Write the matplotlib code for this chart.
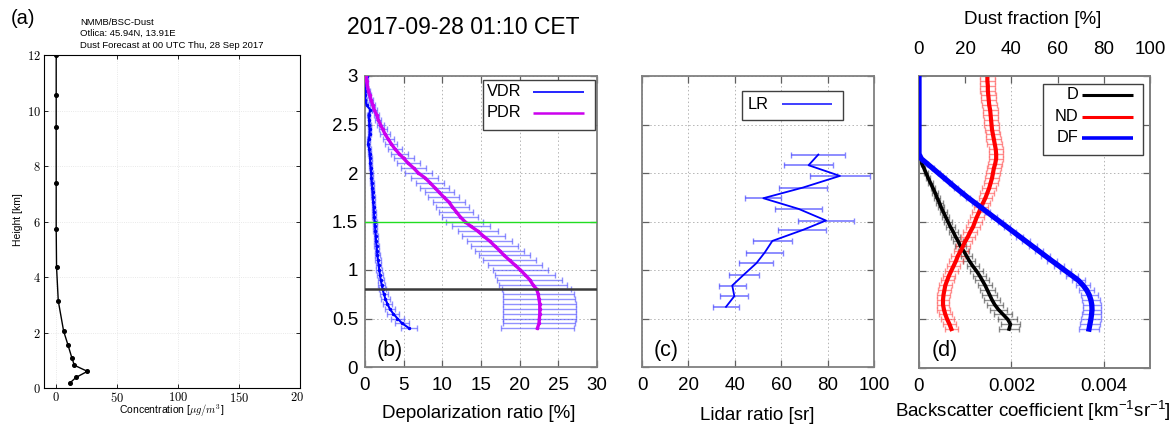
import numpy as np
import matplotlib
matplotlib.use("Agg")
import matplotlib.pyplot as plt
from matplotlib.patches import Rectangle
from matplotlib.ticker import FuncFormatter
from matplotlib.transforms import Bbox, TransformedBbox

plt.rcParams['font.family'] = ['Liberation Sans', 'DejaVu Sans']
plt.rcParams['mathtext.fontset'] = 'cm'

# ---- (a) NMMB/BSC-Dust forecast profile
conc_height = [12.0, 10.56, 9.39, 7.40, 5.74, 4.35, 3.14, 2.05, 1.56, 1.08, 0.82, 0.60, 0.38, 0.17]
conc = [0.0, 0.0, 0.0, 0.0, 0.0, 0.3, 1.7, 6.1, 9.6, 12.9, 14.9, 25.6, 16.2, 11.0]

# ---- common lidar height grid (km) for (b) and (d)
height = [0.40, 0.45, 0.50, 0.55, 0.60, 0.65, 0.70, 0.75, 0.80, 0.85,
          0.90, 0.95, 1.00, 1.05, 1.10, 1.15, 1.20, 1.25, 1.30, 1.35,
          1.40, 1.45, 1.50, 1.55, 1.60, 1.65, 1.70, 1.75, 1.80, 1.85,
          1.90, 1.95, 2.00, 2.05, 2.10, 2.15, 2.20, 2.25, 2.30, 2.35,
          2.40, 2.45, 2.50, 2.55, 2.60, 2.65, 2.70, 2.75, 2.80, 2.85,
          2.90, 2.95, 3.00]

# ---- (b) depolarization ratios [%]
vdr = [5.7, 4.8, 4.2, 3.65, 3.2, 2.9, 2.65, 2.45, 2.28, 2.15,
       2.03, 1.93, 1.85, 1.76, 1.68, 1.61, 1.55, 1.49, 1.43, 1.39,
       1.35, 1.30, 1.25, 1.20, 1.15, 1.12, 1.07, 1.03, 0.99, 0.95,
       0.90, 0.84, 0.80, 0.75, 0.70, 0.66, 0.62, 0.55, 0.40, 0.50,
       0.60, 0.62, 0.58, 0.52, 0.48, 0.70, 0.20, 0.05, 0.0, 0.02,
       0.05, 0.15, 0.20]
vdr_err = [1.0, 0.95, 0.85, 0.75, 0.65, 0.6, 0.55, 0.5, 0.45, 0.42,
           0.4, 0.4, 0.38, 0.36, 0.34, 0.32, 0.3, 0.3, 0.28, 0.27,
           0.26, 0.25, 0.25, 0.24, 0.23, 0.22, 0.22, 0.21, 0.2, 0.2,
           0.2, 0.2, 0.2, 0.2, 0.2, 0.2, 0.2, 0.2, 0.2, 0.2,
           0.18, 0.18, 0.18, 0.16, 0.16, 0.16, 0.15, 0.15, 0.15, 0.15,
           0.15, 0.15, 0.15]
pdr = [22.3, 22.5, 22.55, 22.6, 22.6, 22.6, 22.5, 22.4, 22.2, 21.7,
       21.3, 20.7, 20.1, 19.4, 18.7, 18.0, 17.4, 16.75, 16.1, 15.3,
       14.6, 13.7, 12.9, 12.3, 11.8, 11.3, 10.85, 10.2, 9.6, 9.0,
       8.4, 7.75, 6.9, 6.3, 5.6, 5.0, 4.4, 3.85, 3.4, 3.0,
       2.6, 2.3, 2.0, 1.7, 1.5, 1.2, 1.0, 0.8, 0.6, 0.45,
       0.3, 0.2, 0.15]
pdr_err = [4.7, 4.7, 4.7, 4.7, 4.7, 4.7, 4.65, 4.6, 4.5, 4.4,
           4.2, 3.9, 3.6, 3.5, 3.4, 3.3, 3.15, 3.0, 2.9, 2.75,
           2.6, 2.5, 2.4, 2.3, 2.2, 2.1, 2.05, 2.0, 1.9, 1.85,
           1.8, 1.75, 1.7, 1.6, 1.5, 1.3, 1.1, 0.9, 0.8, 0.7,
           0.6, 0.5, 0.45, 0.4, 0.35, 0.3, 0.3, 0.25, 0.2, 0.2,
           0.15, 0.15, 0.1]

# ---- (c) lidar ratio [sr]
lr_height = [2.19, 2.08, 1.97, 1.85, 1.74, 1.63, 1.51, 1.41, 1.30, 1.18, 1.07, 0.95, 0.84, 0.73, 0.62]
lr = [76.0, 71.8, 85.3, 69.4, 52.3, 67.5, 79.3, 69.0, 56.2, 52.9, 49.3, 43.8, 38.9, 39.8, 36.2]
lr_err = [11.7, 10.5, 13.0, 10.4, 7.8, 10.3, 12.0, 10.5, 8.4, 8.0, 7.3, 6.5, 5.8, 6.0, 5.4]

# ---- (d) backscatter [1e-3 km-1 sr-1] and dust fraction [%]
d_bsc = [1.95, 1.98, 1.92, 1.82, 1.72, 1.64, 1.58, 1.53, 1.48, 1.43,
         1.37, 1.31, 1.24, 1.16, 1.09, 1.03, 0.97, 0.90, 0.85, 0.79,
         0.74, 0.68, 0.63, 0.58, 0.53, 0.48, 0.44, 0.39, 0.35, 0.30,
         0.25, 0.20, 0.155, 0.11, 0.06, 0.02, 0, 0, 0, 0,
         0, 0, 0, 0, 0, 0, 0, 0, 0, 0,
         0, 0, 0]
d_err = [0.21, 0.21, 0.2, 0.19, 0.18, 0.17, 0.17, 0.16, 0.16, 0.15,
         0.15, 0.14, 0.14, 0.13, 0.13, 0.12, 0.12, 0.11, 0.11, 0.1,
         0.1, 0.09, 0.09, 0.08, 0.08, 0.07, 0.07, 0.06, 0.06, 0.05,
         0.05, 0.04, 0.04, 0.03, 0.02, 0.01, 0, 0, 0, 0,
         0, 0, 0, 0, 0, 0, 0, 0, 0, 0,
         0, 0, 0]
nd_bsc = [0.70, 0.66, 0.61, 0.57, 0.54, 0.52, 0.52, 0.53, 0.55, 0.57,
          0.61, 0.65, 0.70, 0.75, 0.80, 0.84, 0.90, 0.95, 1.00, 1.06,
          1.11, 1.17, 1.21, 1.25, 1.30, 1.34, 1.39, 1.44, 1.48, 1.52,
          1.55, 1.58, 1.60, 1.62, 1.65, 1.67, 1.67, 1.66, 1.64, 1.62,
          1.60, 1.58, 1.57, 1.56, 1.55, 1.54, 1.52, 1.51, 1.50, 1.49,
          1.49, 1.48, 1.48]
nd_err = [0.14, 0.14, 0.14, 0.14, 0.14, 0.14, 0.14, 0.14, 0.14, 0.14,
          0.14, 0.14, 0.14, 0.14, 0.15, 0.15, 0.15, 0.15, 0.15, 0.15,
          0.15, 0.15, 0.15, 0.15, 0.15, 0.15, 0.15, 0.15, 0.15, 0.15,
          0.15, 0.15, 0.15, 0.15, 0.15, 0.15, 0.15, 0.15, 0.16, 0.16,
          0.16, 0.16, 0.16, 0.16, 0.16, 0.16, 0.16, 0.16, 0.16, 0.16,
          0.16, 0.16, 0.16]
dust_frac = [73.6, 74.0, 74.4, 74.7, 74.9, 74.8, 74.4, 73.7, 72.6, 71.0,
             69.0, 66.2, 63.3, 60.5, 57.6, 54.8, 52.0, 49.2, 46.4, 43.6,
             40.8, 38.0, 35.2, 32.4, 29.6, 26.8, 24.0, 21.2, 18.6, 16.0,
             13.5, 11.0, 8.5, 6.0, 3.5, 1.0, 0, 0, 0, 0,
             0, 0, 0, 0, 0, 0, 0, 0, 0, 0,
             0, 0, 0]
dust_frac_err = [4.3, 4.3, 4.3, 4.2, 4.1, 4.0, 3.8, 3.6, 3.3, 3.0,
                 2.7, 2.5, 2.3, 2.1, 2.0, 1.9, 1.8, 1.7, 1.6, 1.5,
                 1.4, 1.3, 1.2, 1.2, 1.1, 1.0, 1.0, 0.9, 0.8, 0.7,
                 0.6, 0.5, 0.4, 0.3, 0.2, 0.1, 0, 0, 0, 0,
                 0, 0, 0, 0, 0, 0, 0, 0, 0, 0,
                 0, 0, 0]

W, H = 1176, 426
fig = plt.figure(figsize=(W / 100, H / 100), dpi=100)


def px_axes(l, t, r, b):
    return fig.add_axes([l / W, 1 - b / H, (r - l) / W, (b - t) / H])


def px_text(x, y, s, **kw):
    return fig.text(x / W, 1 - y / H, s, **kw)


#gnuplot-like look
def gp_style(ax):
    for s in ax.spines.values():
        s.set_color('#808080')
        s.set_linewidth(1.3)
    ax.tick_params(direction='in', top=True, right=True, length=5, width=0.9,
                   color='#606060', labelsize=13.5, pad=7.5)
    ax.tick_params(axis='y', pad=5)
    ax.grid(True, color='#b4b4b4', ls=(0, (1.5, 2.5)), lw=0.7)
    ax.set_axisbelow(True)


def gp_key(ax, box, x_txt, x_line, entries):
    x0, y0, x1, y1 = box
    ax.add_patch(Rectangle((x0, y0), x1 - x0, y1 - y0, transform=ax.transAxes,
                           facecolor='white', edgecolor='#404040', lw=1.0, zorder=8))
    for lab, y, col, lw in entries:
        ax.text(x_txt, y, lab, transform=ax.transAxes, ha='right', va='center',
                fontsize=11.8, zorder=9)
        ax.plot(x_line, [y, y], transform=ax.transAxes, color=col, lw=lw,
                zorder=9, solid_capstyle='butt')


# ---------------- panel (a)
ax_a = px_axes(44, 55, 300, 388)
ax_a.plot(conc, conc_height, color='black', lw=1.0, marker='o', ms=2.6)
ax_a.set_xlim(-10, 200)
ax_a.set_ylim(0, 12)
ax_a.set_xticks([0, 50, 100, 150, 200])
ax_a.set_yticks([0, 2, 4, 6, 8, 10, 12])
ax_a.xaxis.set_major_formatter(FuncFormatter(lambda v, p: r'$%d$' % v))
ax_a.yaxis.set_major_formatter(FuncFormatter(lambda v, p: r'$%d$' % v))
ax_a.tick_params(direction='in', top=True, right=True, length=3, width=0.6,
                 labelsize=9, pad=2.5)
ax_a.grid(True, color='#e2e2e2', ls=':', lw=0.6)
for s in ax_a.spines.values():
    s.set_linewidth(0.8)
# the last x label is cut at the panel edge in the original
lab_last = ax_a.xaxis.get_major_ticks()[-1].label1
lab_last.set_clip_box(TransformedBbox(Bbox.from_extents(0, 0, 303 / W, 1), fig.transFigure))
lab_last.set_clip_on(True)

px_text(22.5, 18.5, '(a)', fontsize=14.5, ha='center', va='center')
px_text(80, 22.5, 'NMMB/BSC-Dust', fontsize=6.8, va='center')
px_text(80, 33.5, 'Otlica: 45.94N, 13.91E', fontsize=6.8, va='center')
px_text(80, 45.5, 'Dust Forecast at 00 UTC Thu, 28 Sep 2017', fontsize=6.8, va='center')
px_text(18, 220, 'Height [km]', fontsize=7.5, rotation=90, ha='center', va='center')
px_text(172, 411, r'Concentration [$\mu g/m^3$]', fontsize=7.5, ha='center', va='center')

# ---------------- panel (b)
ax_b = px_axes(365, 76, 597, 367)
gp_style(ax_b)
ax_b.errorbar(vdr, height, xerr=vdr_err, fmt='none', ecolor='#4848ff', alpha=0.6,
              elinewidth=1.0, capsize=2.2, capthick=1.0, zorder=2)
ax_b.errorbar(pdr, height, xerr=pdr_err, fmt='none', ecolor='#4848ff', alpha=0.6,
              elinewidth=1.0, capsize=2.2, capthick=1.0, zorder=2)
ax_b.plot(vdr, height, color='#0000ff', lw=1.5, marker='.', ms=3, zorder=3)
ax_b.plot(pdr, height, color='#cc00ee', lw=2.4, marker='.', ms=3, zorder=3)
ax_b.axhline(1.5, color='#22dd22', lw=1.0, zorder=4)
ax_b.axhline(0.8, color='#3a3a3a', lw=1.8, zorder=4)
ax_b.set_xlim(0, 30)
ax_b.set_ylim(0, 3)
ax_b.set_xticks([0, 5, 10, 15, 20, 25, 30])
ax_b.set_yticks([0, 0.5, 1, 1.5, 2, 2.5, 3])
ax_b.yaxis.set_major_formatter(FuncFormatter(lambda v, p: '%g' % v))
ax_b.text(0.108, 0.058, '(b)', transform=ax_b.transAxes, fontsize=15.5,
          ha='center', va='center')
gp_key(ax_b, (0.51, 0.814, 0.991, 0.986), 0.675, [0.726, 0.944],
       [('VDR', 0.946, '#0000ff', 1.2), ('PDR', 0.874, '#cc00ee', 1.8)])
px_text(479, 414, 'Depolarization ratio [%]', fontsize=13.5, ha='center', va='center')
px_text(463, 28, '2017-09-28 01:10 CET', fontsize=16.5, ha='center', va='center')

# ---------------- panel (c)
ax_c = px_axes(642, 76, 874, 367)
gp_style(ax_c)
ax_c.errorbar(lr, lr_height, xerr=lr_err, fmt='none', ecolor='#5a5aff', alpha=0.75,
              elinewidth=1.3, capsize=2.5, capthick=1.0, zorder=2)
ax_c.plot(lr, lr_height, color='#0000ff', lw=1.3, zorder=3)
ax_c.set_xlim(0, 100)
ax_c.set_ylim(0, 3)
ax_c.set_xticks([0, 20, 40, 60, 80, 100])
ax_c.set_yticks([0, 0.5, 1, 1.5, 2, 2.5, 3])
ax_c.tick_params(axis='y', labelleft=False)
ax_c.text(0.105, 0.058, '(c)', transform=ax_c.transAxes, fontsize=15.5,
          ha='center', va='center')
gp_key(ax_c, (0.432, 0.849, 0.865, 0.949), 0.547, [0.602, 0.818],
       [('LR', 0.903, '#3030ff', 1.3)])
px_text(757, 415, 'Lidar ratio [sr]', fontsize=13.5, ha='center', va='center')

# ---------------- panel (d)
ax_d = px_axes(919, 76, 1150, 368)
gp_style(ax_d)
d_scaled = np.array(d_bsc) * 1e-3
d_err_scaled = np.array(d_err) * 1e-3
nd_scaled = np.array(nd_bsc) * 1e-3
nd_err_scaled = np.array(nd_err) * 1e-3
d_mask = np.array(height) <= 2.17
ax_d.errorbar(d_scaled[d_mask], np.array(height)[d_mask], xerr=d_err_scaled[d_mask],
              fmt='none', ecolor='#303030', alpha=0.55, elinewidth=1.0, capsize=2.2,
              capthick=1.0, zorder=2)
ax_d.plot(d_scaled[d_mask], np.array(height)[d_mask], color='black', lw=2.6, zorder=3)
ax_d.errorbar(nd_scaled, height, xerr=nd_err_scaled, fmt='none', ecolor='#ff3a3a',
              alpha=0.55, elinewidth=1.0, capsize=2.2, capthick=1.0, zorder=2)
ax_d.plot(nd_scaled, height, color='#ff0000', lw=3.0, zorder=3)
ax_d.set_xlim(0, 0.005)
ax_d.set_ylim(0, 3)
ax_d.set_xticks([0, 0.002, 0.004])
ax_d.xaxis.set_major_formatter(FuncFormatter(lambda v, p: '%g' % v))
ax_d.set_yticks([0, 0.5, 1, 1.5, 2, 2.5, 3])
ax_d.tick_params(axis='y', labelleft=False)
ax_d.tick_params(axis='x', top=False)
ax_d.text(0.112, 0.06, '(d)', transform=ax_d.transAxes, fontsize=15.5,
          ha='center', va='center')

ax_t = ax_d.twiny()
ax_t.set_xlim(0, 100)
ax_t.errorbar(dust_frac, height, xerr=dust_frac_err, fmt='none', ecolor='#4a4aff',
              alpha=0.6, elinewidth=1.0, capsize=2.2, capthick=1.0, zorder=2)
ax_t.plot(dust_frac, height, color='#0000ff', lw=3.8, zorder=3)
ax_t.set_xticks([0, 20, 40, 60, 80, 100])
ax_t.tick_params(axis='x', direction='in', length=5, width=0.9, color='#606060',
                 labelsize=13.5, pad=13)
for s in ax_t.spines.values():
    s.set_color('#808080')
    s.set_linewidth(1.3)
gp_key(ax_t, (0.535, 0.728, 0.971, 0.973), 0.688, [0.704, 0.925],
       [('D', 0.935, 'black', 2.2), ('ND', 0.860, '#ff0000', 2.2),
        ('DF', 0.788, '#0000ff', 2.6)])
px_text(1033, 411, r'Backscatter coefficient [km$\mathregular{^{-1}}$sr$\mathregular{^{-1}}$]',
        fontsize=13.5, ha='center', va='center')
px_text(1033, 20, 'Dust fraction [%]', fontsize=13.5, ha='center', va='center')

fig.savefig('out.png', dpi=100)
